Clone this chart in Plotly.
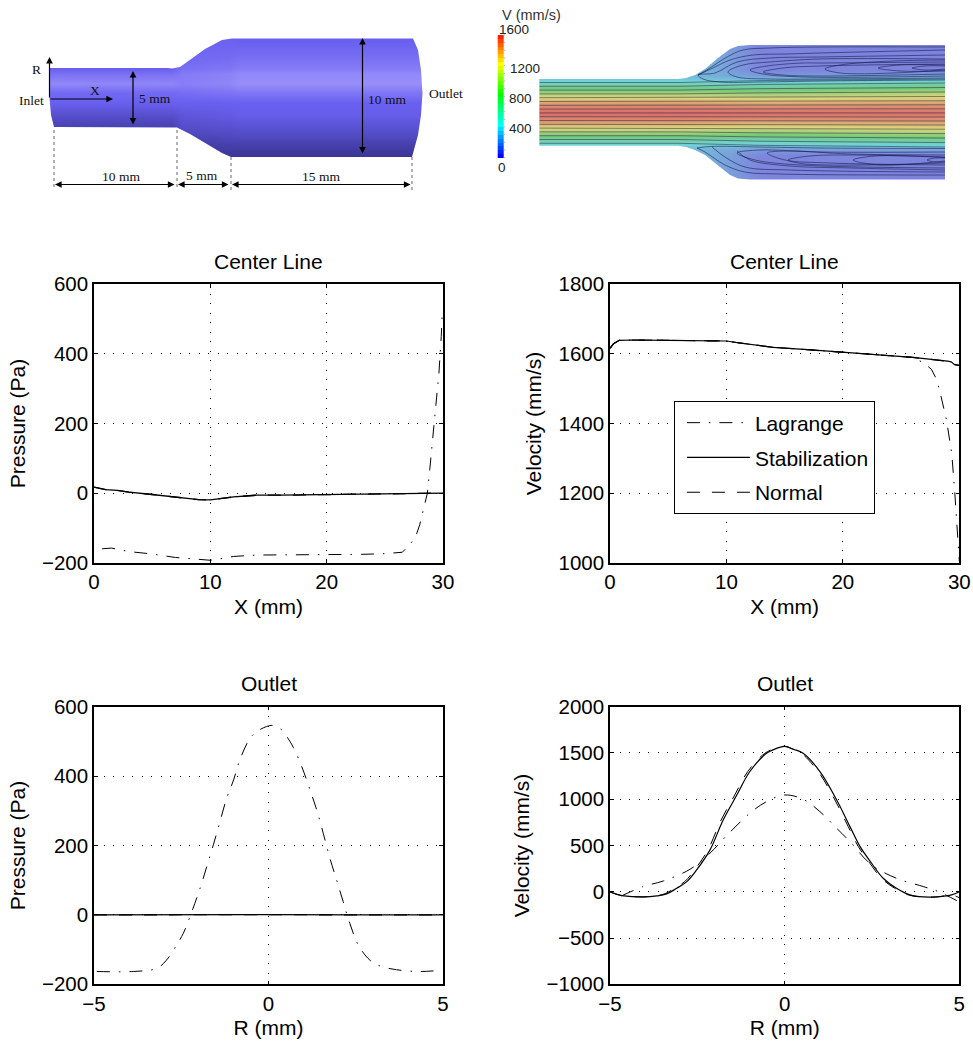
import plotly.graph_objects as go

W, H = 973, 1043
BLACK = "black"
FONT = "Liberation Sans, Arial, sans-serif"
SERIF = "Liberation Serif, Times New Roman, serif"

# ---------- chart data ----------
cl_x_stab_p = [0, 0.5, 1, 2, 3, 5, 7, 8, 9, 10, 10.5, 11, 12, 13, 14, 16, 20, 25, 28, 30]
cl_p_stab = [17, 14, 10, 8, 3, -4, -12, -16, -19, -19.5, -18, -15, -11, -8, -6, -6, -4, -2, -1, 0]
cl_x_lag_p = [0.7, 1.5, 3, 5, 7, 9, 10, 11, 12, 14, 17, 20, 23, 25, 26.5, 27, 27.6, 28, 28.3, 28.66, 28.86, 29.1, 29.4, 29.65, 29.85, 29.92]
cl_p_lag = [-160, -158, -168, -175, -185, -191, -193, -188, -182, -178, -178, -177, -176, -174, -170, -153, -130, -91, -48, 0, 67, 153, 249, 345, 450, 508]

cl_x_stab_v = [0, 0.3, 0.8, 2, 5, 9, 10, 11, 12, 14, 17, 20, 23, 26, 29, 29.3, 29.6, 30]
cl_v_stab = [1616, 1629, 1639, 1640, 1639, 1638, 1637, 1632, 1627, 1619, 1612, 1605, 1597, 1590, 1579, 1577, 1569, 1567]
cl_x_lag_v = [0, 0.3, 0.8, 2, 5, 9, 10, 11, 12, 14, 17, 20, 23, 26, 26.9, 27.6, 28, 28.3, 28.9, 29.35, 29.6, 29.8, 30]
cl_v_lag = [1616, 1629, 1639, 1640, 1639, 1638, 1637, 1632, 1627, 1619, 1612, 1605, 1597, 1590, 1575, 1556, 1530, 1497, 1410, 1314, 1208, 1112, 1005]

out_r_flat = [-5, -2.5, 0, 2.5, 5]
out_p_stab = [0, 1, 1, 0, 0]
out_r_lag_p = [-4.92, -3.87, -3.2, -2.92, -2.63, -2.44, -2.25, -1.96, -1.77, -1.58, -1.39, -1.2, -1.0, -0.82, -0.53, -0.34, -0.05, 0.14, 0.38, 0.57, 0.71, 0.95, 1.19, 1.38, 1.57, 1.76, 1.95, 2.14, 2.33, 2.57, 2.9, 3.19, 3.67, 4.33, 4.9]
out_p_lag = [-163, -163, -154, -130, -86, -53, -5, 77, 139, 202, 269, 336, 389, 447, 509, 528, 543, 546, 533, 507, 483, 428, 360, 303, 235, 163, 101, 38, -24, -86, -130, -147, -158, -163, -160]

out_r_stab = [-5, -4.8, -4.6, -4.05, -3.66, -3.38, -3.09, -2.8, -2.52, -2.14, -1.76, -1.37, -1, -0.52, -0.23, 0, 0.25, 0.53, 1.01, 1.49, 1.87, 2.16, 2.49, 2.82, 3.2, 3.59, 3.97, 4.45, 4.78, 5]
out_v_stab = [0, -28, -45, -56, -45, -23, 38, 110, 236, 450, 775, 1045, 1297, 1496, 1550, 1572, 1540, 1497, 1299, 992, 704, 488, 308, 146, 38, -34, -56, -52, -34, 0]
out_r_norm = [-5, -4.8, -4.6, -4.05, -3.7, -3.44, -3.15, -2.86, -2.58, -2.2, -1.82, -1.43, -1.06, -0.57, -0.26, 0, 0.25, 0.48, 0.96, 1.44, 1.82, 2.11, 2.44, 2.77, 3.15, 3.54, 3.92, 4.45, 4.78, 5]
out_v_norm = [0, -28, -45, -56, -45, -23, 38, 110, 236, 450, 775, 1045, 1297, 1496, 1550, 1572, 1540, 1497, 1299, 992, 704, 488, 308, 146, 38, -34, -56, -52, -34, -65]
out_r_lag_v = [-4.67, -4.05, -3.47, -2.71, -2.14, -1.66, -1, -0.52, 0, 0.53, 1.01, 1.49, 1.87, 2.49, 3.2, 3.97, 4.4, 4.98]
out_v_lag = [-45, 56, 117, 243, 416, 607, 848, 974, 1046, 999, 866, 686, 542, 290, 146, 56, 2, -106]

x_ticks_cl = [0, 10, 20, 30]
x_ticks_out = [-5, 0, 5]
y_ticks_p = [-200, 0, 200, 400, 600]
y_ticks_vc = [1000, 1200, 1400, 1600, 1800]
y_ticks_vo = [-1000, -500, 0, 500, 1000, 1500, 2000]

# ---------- schematic data (figure-pixel coordinates of the two pictures) ----------
sil_x = [50, 168, 172, 180, 190, 205, 222, 232, 413, 418, 421, 422.5, 421, 418, 412, 231, 222, 205, 190, 177, 54, 51, 49.5, 50, 50]
sil_y = [68, 68, 68.5, 67, 60, 49, 40, 38.5, 38.5, 50, 70, 93, 115, 135, 157, 157, 153, 143, 134, 127.5, 127, 115, 98, 80, 68]
shade_x = [45, 172, 182, 230, 240, 425, 430]
shade_y = [36, 55, 68, 73, 83, 92, 102, 115, 127, 135, 147, 160]
shade_z = [
    [.62, .62, .62, .62, .60, .60, .60],
    [.62, .62, .66, .68, .70, .70, .70],
    [.62, .62, .72, .76, .80, .80, .80],
    [.72, .72, .78, .84, .88, .88, .88],
    [.88, .86, .82, .86, .92, .92, .92],
    [.68, .68, .70, .74, .76, .76, .76],
    [.62, .62, .62, .62, .62, .62, .62],
    [.42, .42, .50, .55, .58, .58, .58],
    [.28, .28, .40, .44, .46, .46, .46],
    [.28, .28, .32, .36, .38, .38, .38],
    [.20, .20, .20, .22, .22, .22, .22],
    [.08, .08, .08, .08, .08, .08, .08],
]
shade_scale = [[0, "#322c80"], [0.3, "#4a44b4"], [0.62, "#6a60f0"], [0.9, "#958cfa"], [1, "#a09aff"]]

flow_sil_x = [539.3, 678, 686, 695, 705, 718, 730, 738, 750, 945, 945, 750, 738, 730, 718, 705, 695, 686, 678, 539.3, 539.3]
flow_sil_y = [79, 79, 78, 75, 69, 58, 49, 46, 45, 45, 179.5, 179.5, 178.5, 175, 165, 155, 150, 147, 145.7, 145.7, 79]
flow_x = [537, 539, 680, 760, 955]
flow_y = [40, 70, 76, 79, 82, 85, 90, 95, 100, 105, 112.5, 120, 125, 130, 135, 140, 143, 146, 149, 155, 185]
flow_z = [
    [350, 350, 350, 30, 20], [350, 350, 350, 40, 30], [350, 350, 300, 150, 200], [350, 350, 350, 300, 380], [470, 470, 470, 420, 520],
    [600, 600, 600, 560, 680], [850, 850, 850, 800, 930], [1100, 1100, 1100, 1040, 1140], [1300, 1300, 1300, 1260, 1300], [1480, 1480, 1480, 1440, 1450],
    [1600, 1600, 1600, 1590, 1570],
    [1480, 1480, 1480, 1440, 1450], [1300, 1300, 1300, 1260, 1300], [1100, 1100, 1100, 1040, 1140], [850, 850, 850, 800, 930], [600, 600, 600, 560, 680],
    [470, 470, 470, 420, 520], [350, 350, 350, 300, 380], [350, 350, 300, 150, 200], [350, 350, 350, 40, 30], [350, 350, 350, 30, 20],
]
flow_scale = [[0, "#7e7edd"], [0.25, "#72d2d8"], [0.5, "#74ca7c"], [0.75, "#dcd67c"], [1, "#da6c6c"]]

stream_in = [82.5, 86.3, 90.1, 93.9, 97.7, 101.5, 105.3, 109.1, 112.9, 116.7, 120.5, 124.3, 128.1, 131.9, 135.7, 139.5, 143.3]
stream_out = [79, 83, 87.5, 92, 96.5, 100.8, 104.8, 108.8, 112.9, 117, 121, 125, 129.2, 133.6, 138, 142.6, 147]
upper_lobes = [
    ([698, 710, 727, 743, 770, 820, 945], [75, 68, 57, 50, 48, 47, 47]),
    ([698, 713, 730, 753, 787, 820, 945], [75, 68, 60, 55, 54, 53, 50]),
    ([945, 820, 760, 720, 703, 698, 715, 737, 770, 820, 945], [80, 81, 82, 82, 79, 75, 73, 62, 58, 57, 55]),
    ([945, 820, 770, 737, 728, 743, 770, 820, 945], [78, 79, 79, 77, 72, 65, 62, 59, 59]),
    ([945, 803, 763, 750, 767, 803, 820, 945], [76, 77, 74, 70, 66, 63, 63, 62]),
    ([945, 820, 783, 763, 783, 820, 945], [74, 76, 75, 72, 68, 66, 64]),
    ([945, 893, 840, 825, 840, 893, 945], [70, 73, 73, 69, 65, 61, 60]),
    ([945, 900, 878, 900, 945], [71, 71, 68, 65, 65]),
    ([945, 925, 912, 925, 945], [69, 70, 68, 66, 66]),
]
lower_lobes = [
    ([697, 705, 725, 745, 780, 945], [148, 152, 165, 172, 174, 175]),
    ([697, 710, 760, 820, 945], [148, 146.5, 147, 148, 148.5]),
    ([712, 725, 745, 790, 945], [147, 157, 167, 170, 172]),
    ([737, 750, 790, 850, 945], [151, 160, 166, 168, 170]),
    ([945, 820, 760, 737, 755, 800, 945], [152, 152, 150, 153, 160, 165, 168]),
    ([945, 850, 790, 767, 785, 830, 945], [155, 154, 151, 153, 160, 163, 165]),
    ([945, 850, 810, 788, 805, 945], [157, 155, 156, 160, 164, 163]),
    ([945, 875, 853, 880, 945], [157.5, 156, 160, 165, 161]),
    ([945, 935, 927, 935, 945], [158, 158, 160, 162, 162]),
]

cbar_levels = list(range(0, 1600, 50))
cbar_labels = [("1600", 514, 29.5), ("1200", 524.5, 68), ("800", 520, 98), ("400", 520, 128), ("0", 501.7, 167)]
rainbow = [[0, "#0000ff"], [0.25, "#00ffff"], [0.5, "#00ff00"], [0.75, "#ffff00"], [1, "#ff0000"]]

dim_arrows = [  # head x, head y, tail x, tail y, both ends
    (49.5, 57, 49.5, 99, False), (113, 99, 49, 99, False),
    (133, 71, 133, 126, True), (362.5, 38, 362.5, 155, True),
    (55, 184.5, 176, 184.5, True), (178, 184.5, 230, 184.5, True), (232, 184.5, 412, 184.5, True),
]
ext_lines = [(54, 130, 190), (177, 130, 190), (231, 157, 191), (412, 157, 192)]
schem_text = [("R", 36, 69), ("Inlet", 31, 100), ("X", 95, 90), ("5 mm", 155, 98), ("10 mm", 387, 99),
              ("Outlet", 445.5, 93), ("10 mm", 121, 176), ("5 mm", 202, 175), ("15 mm", 321, 176)]

# ---------- layout helpers ----------
PANELS = {
    1: dict(box=(94, 443, 284.3, 562.7), xr=(0, 30), yr=(-200, 600), xt=x_ticks_cl, yt=y_ticks_p, title="Center Line", xl="X (mm)", yl="Pressure (Pa)", ty=261),
    2: dict(box=(610, 959.3, 284.3, 562.7), xr=(0, 30), yr=(1000, 1800), xt=x_ticks_cl, yt=y_ticks_vc, title="Center Line", xl="X (mm)", yl="Velocity (mm/s)", ty=261),
    3: dict(box=(94, 443, 706.7, 984.3), xr=(-5, 5), yr=(-200, 600), xt=x_ticks_out, yt=y_ticks_p, title="Outlet", xl="R (mm)", yl="Pressure (Pa)", ty=683),
    4: dict(box=(610, 959.3, 706.7, 984.3), xr=(-5, 5), yr=(-1000, 2000), xt=x_ticks_out, yt=y_ticks_vo, title="Outlet", xl="R (mm)", yl="Velocity (mm/s)", ty=683),
}
DASHDOT = "13px,9px,1.5px,9px"
DASH = "13px,12px"
fig = go.Figure()


def line(n, x, y, name, dash, width, legend=False, smooth=False):
    fig.add_trace(go.Scatter(x=x, y=y, mode="lines", name=name, xaxis=f"x{n}", yaxis=f"y{n}",
                             line=dict(color=BLACK, width=width, dash=dash, shape="spline" if smooth else "linear"),
                             legendgroup=name, showlegend=legend))


line(1, cl_x_lag_p, cl_p_lag, "Lagrange", DASHDOT, 1)
line(1, cl_x_stab_p, cl_p_stab, "Normal", DASH, 1.3)
line(1, cl_x_stab_p, cl_p_stab, "Stabilization", "solid", 1.3)

line(2, cl_x_lag_v, cl_v_lag, "Lagrange", DASHDOT, 1, True)
line(2, cl_x_stab_v, cl_v_stab, "Stabilization", "solid", 1.2, True)
line(2, cl_x_stab_v, cl_v_stab, "Normal", DASH, 1.2, True)

line(3, out_r_lag_p, out_p_lag, "Lagrange", DASHDOT, 1, smooth=True)
line(3, out_r_flat, out_p_stab, "Normal", DASH, 1.3)
line(3, out_r_flat, out_p_stab, "Stabilization", "solid", 1.3)

line(4, out_r_lag_v, out_v_lag, "Lagrange", DASHDOT, 1, smooth=True)
line(4, out_r_norm, out_v_norm, "Normal", DASH, 1, smooth=True)
line(4, out_r_stab, out_v_stab, "Stabilization", "solid", 1.2, smooth=True)

# ---------- the two pictures on a hidden pixel-scaled axis pair ----------
XS, YS = "x5", "y5"


def mask(sx, sy, left, right, top, bottom):
    # white frame with the silhouette as its hole (frame and silhouette wind in opposite senses)
    fx = [left, left, right, right, left, sx[0]] + sx + [left]
    fy = [top, bottom, bottom, top, top, sy[0]] + sy + [top]
    fig.add_trace(go.Scatter(x=fx, y=fy, mode="lines", fill="toself", fillcolor="white", line=dict(width=0),
                             xaxis=XS, yaxis=YS, showlegend=False, hoverinfo="skip"))


fig.add_trace(go.Heatmap(x=shade_x, y=shade_y, z=shade_z, zmin=0, zmax=1, colorscale=shade_scale, zsmooth="best",
                         showscale=False, xaxis=XS, yaxis=YS, hoverinfo="skip"))
mask(sil_x, sil_y, 0, 435, 0, 220)

ex, ey = [], []
for x, y0, y1 in ext_lines:
    ex += [x, x, None]
    ey += [y0, y1, None]
fig.add_trace(go.Scatter(x=ex, y=ey, mode="lines", line=dict(color="#666666", width=1, dash="3px,3px"),
                         xaxis=XS, yaxis=YS, showlegend=False, hoverinfo="skip"))

fig.add_trace(go.Heatmap(x=flow_x, y=flow_y, z=flow_z, zmin=0, zmax=1600, colorscale=flow_scale, zsmooth="best",
                         showscale=False, xaxis=XS, yaxis=YS, hoverinfo="skip"))
for yi, yo in zip(stream_in, stream_out):
    fig.add_trace(go.Scatter(x=[539.3, 680, 760, 945], y=[yi, yi, yi + (yo - yi) * 0.55, yo], mode="lines",
                             line=dict(color="rgba(30,30,50,0.55)", width=0.9), xaxis=XS, yaxis=YS,
                             showlegend=False, hoverinfo="skip"))
for lx, ly in upper_lobes + lower_lobes:
    fig.add_trace(go.Scatter(x=lx, y=ly, mode="lines", line=dict(color="rgba(25,25,80,0.65)", width=0.9, shape="spline"),
                             xaxis=XS, yaxis=YS, showlegend=False, hoverinfo="skip"))
mask(flow_sil_x, flow_sil_y, 507, 973, 0, 220)

n = len(cbar_levels)
cb_edges = [35 + (157.7 - 35) * i / n for i in range(n + 1)]
fig.add_trace(go.Heatmap(x=[497.7, 503.7], y=cb_edges[::-1], z=[[v] for v in cbar_levels], zmin=0, zmax=1600,
                         colorscale=rainbow, showscale=False, xaxis=XS, yaxis=YS, hoverinfo="skip"))
tx, ty = [], []
for e in cb_edges[::2]:
    tx += [503.7, 505.2, None]
    ty += [e, e, None]
fig.add_trace(go.Scatter(x=tx, y=ty, mode="lines", line=dict(color="#999999", width=0.8),
                         xaxis=XS, yaxis=YS, showlegend=False, hoverinfo="skip"))

# ---------- annotations ----------
ann = []
for p in PANELS.values():
    l, r, t, b = p["box"]
    ann.append(dict(text=p["title"], x=(l + r) / 2 / W, y=1 - p["ty"] / H, xref="paper", yref="paper",
                    showarrow=False, xanchor="center", yanchor="middle", font=dict(family=FONT, size=21, color=BLACK)))
for hx, hy, tx_, ty_, both in dim_arrows:
    ann.append(dict(text="", x=hx, y=hy, ax=tx_, ay=ty_, xref=XS, yref=YS, axref=XS, ayref=YS, showarrow=True,
                    arrowhead=2, arrowsize=1.1, arrowwidth=1.2, arrowcolor=BLACK,
                    arrowside="end+start" if both else "end", standoff=0, startstandoff=0))
for t, x, y in schem_text:
    ann.append(dict(text=t, x=x, y=y, xref=XS, yref=YS, showarrow=False, xanchor="center", yanchor="middle",
                    font=dict(family=SERIF, size=13.5, color="#111111")))
ann.append(dict(text="V (mm/s)", x=531.7, y=15, xref=XS, yref=YS, showarrow=False, xanchor="center", yanchor="middle",
                font=dict(family=FONT, size=14.5, color="#333333")))
for t, x, y in cbar_labels:
    ann.append(dict(text=t, x=x, y=y, xref=XS, yref=YS, showarrow=False, xanchor="center", yanchor="middle",
                    font=dict(family=FONT, size=13.5, color="#222222")))

layout = dict(
    width=W, height=H, margin=dict(l=0, r=0, t=0, b=0), paper_bgcolor="white", plot_bgcolor="rgba(0,0,0,0)",
    font=dict(family=FONT, size=20.5, color=BLACK), annotations=ann,
    legend=dict(x=673.7 / W, y=1 - 401.3 / H, xanchor="left", yanchor="top", bgcolor="white", bordercolor=BLACK,
                borderwidth=1.2, itemwidth=63, tracegroupgap=4.5, indentation=7, entrywidth=123, entrywidthmode="pixels",
                font=dict(family=FONT, size=21, color=BLACK), itemclick=False, itemdoubleclick=False),
    xaxis5=dict(domain=[0, 1], range=[0, W], visible=False, fixedrange=True, anchor="y5"),
    yaxis5=dict(domain=[1 - 220 / H, 1], range=[220, 0], visible=False, fixedrange=True, anchor="x5"),
)
for i, p in PANELS.items():
    l, r, t, b = p["box"]
    common = dict(showline=True, linecolor=BLACK, linewidth=1.5, mirror="ticks", ticks="inside", ticklen=4, tickwidth=1,
                  tickcolor=BLACK, showgrid=True, gridcolor=BLACK, griddash="1px,8.5px", gridwidth=1, zeroline=False,
                  tickfont=dict(family=FONT, size=20.5, color=BLACK), automargin=False)
    layout[f"xaxis{i}"] = dict(domain=[l / W, r / W], range=list(p["xr"]), tickvals=p["xt"], anchor=f"y{i}",
                               title=dict(text=p["xl"], standoff=7, font=dict(family=FONT, size=21, color=BLACK)), **common)
    layout[f"yaxis{i}"] = dict(domain=[1 - b / H, 1 - t / H], range=list(p["yr"]), tickvals=p["yt"], anchor=f"x{i}",
                               title=dict(text=p["yl"], standoff=11, font=dict(family=FONT, size=21, color=BLACK)), **common)
fig.update_layout(**layout)
fig.write_html("out.html", config=dict(displayModeBar=False),
               post_script="document.body.style.margin='0';document.documentElement.style.overflow='hidden';")
